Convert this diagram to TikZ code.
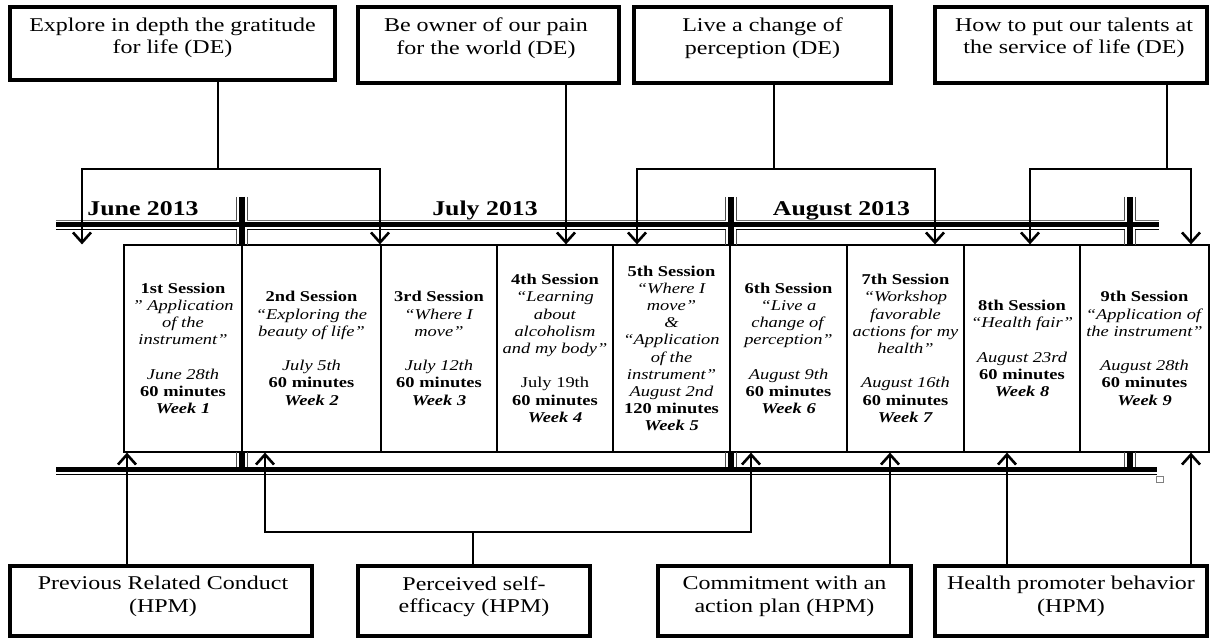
\documentclass[tikz,border=0pt]{standalone}
\usepackage{fontspec}
\setmainfont{Liberation Serif}[FakeStretch=1.23]
\usetikzlibrary{arrows.meta}
\begin{document}
\begin{tikzpicture}[x=1pt,y=-1pt,
  box/.style={draw, line width=4.5pt, inner sep=0pt},
  btxt/.style={align=center, font=\fontsize{19.5}{22.5}\selectfont, inner sep=0pt},
  cell/.style={draw, line width=1.2pt, inner sep=0pt, align=center, font=\fontsize{15}{17.2}\selectfont},
  conn/.style={line width=2.8pt},
  arr/.style={conn, -{Straight Barb[length=10pt,width=18pt,line width=2.6pt]}},
  month/.style={font=\fontsize{21}{24}\selectfont\bfseries, anchor=base, inner sep=0pt},
  thickbar/.style={line width=5pt},
  thinbar/.style={line width=1pt},
  graybar/.style={line width=0.9pt, black!55},
  sep/.style={line width=5.5pt},
  flank/.style={line width=0.9pt, black!70}
]
\useasboundingbox (0,0) rectangle (1210,639);

% ---------- top boxes ----------
\node[box, minimum width=325pt, minimum height=73pt] (b1) at (172.5,43.5) {};
\node[btxt] (b1t) at (172.5,38) {Explore in depth the gratitude\\for life (DE)};
\node[box, minimum width=261pt, minimum height=76pt] (b2) at (488.5,45) {};
\node[btxt] (b2t) at (486,38) {Be owner of our pain\\for the world (DE)};
\node[box, minimum width=257pt, minimum height=76pt] (b3) at (762.5,45) {};
\node[btxt] (b3t) at (762.5,38) {Live a change of\\perception (DE)};
\node[box, minimum width=272pt, minimum height=76pt] (b4) at (1071,45) {};
\node[btxt] (b4t) at (1074,38) {How to put our talents at\\the service of life (DE)};

% ---------- bars ----------
\draw[graybar] (56,220.3) -- (1159,220.3);
\draw[thickbar] (56,224.5) -- (1159,224.5);
\draw[thinbar] (56,229.6) -- (1159,229.6);
\draw[thickbar] (56,469.5) -- (1157,469.5);
\draw[thinbar] (56,474.3) -- (1157,474.3);
\draw[gray, line width=0.8pt] (1156,476) rectangle (1163,482);

% month labels
\node[month] (m1) at (143,216) {June 2013};
\node[month] (m2) at (485,216) {July 2013};
\node[month] (m3) at (841.5,216) {August 2013};

% ---------- session cells ----------
\node[cell, minimum width=118pt, minimum height=207pt] (c1) at (183,348.5)
 {\textbf{1st Session}\\ \textit{" Application}\\ \textit{of the}\\ \textit{instrument"}\\[17.2pt]
  \textit{June 28th}\\ \textbf{60 minutes}\\ \textbf{\textit{Week 1}}};
\node[cell, minimum width=139pt, minimum height=207pt] (c2) at (311.5,348.5)
 {\textbf{2nd Session}\\ \textit{“Exploring the}\\ \textit{beauty of life”}\\[17.2pt]
  \textit{July 5th}\\ \textbf{60 minutes}\\ \textbf{\textit{Week 2}}};
\node[cell, minimum width=116pt, minimum height=207pt] (c3) at (439,348.5)
 {\textbf{3rd Session}\\ \textit{“Where I}\\ \textit{move”}\\[17.2pt]
  \textit{July 12th}\\ \textbf{60 minutes}\\ \textbf{\textit{Week 3}}};
\node[cell, minimum width=116pt, minimum height=207pt] (c4) at (555,348.5)
 {\textbf{4th Session}\\ \textit{“Learning}\\ \textit{about}\\ \textit{alcoholism}\\ \textit{and my body”}\\[17.2pt]
  July 19th\\ \textbf{60 minutes}\\ \textbf{\textit{Week 4}}};
\node[cell, minimum width=117pt, minimum height=207pt] (c5) at (671.5,348.5)
 {\textbf{5th Session}\\ \textit{“Where I}\\ \textit{move”}\\ \textit{\&}\\ \textit{“Application}\\ \textit{of the}\\ \textit{instrument”}\\
  \textit{August 2nd}\\ \textbf{120 minutes}\\ \textbf{\textit{Week 5}}};
\node[cell, minimum width=117pt, minimum height=207pt] (c6) at (788.5,348.5)
 {\textbf{6th Session}\\ \textit{“Live a}\\ \textit{change of}\\ \textit{perception”}\\[17.2pt]
  \textit{August 9th}\\ \textbf{60 minutes}\\ \textbf{\textit{Week 6}}};
\node[cell, minimum width=117pt, minimum height=207pt] (c7) at (905.5,348.5)
 {\textbf{7th Session}\\ \textit{“Workshop}\\ \textit{favorable}\\ \textit{actions for my}\\ \textit{health”}\\[17.2pt]
  \textit{August 16th}\\ \textbf{60 minutes}\\ \textbf{\textit{Week 7}}};
\node[cell, minimum width=116pt, minimum height=207pt] (c8) at (1022,348.5)
 {\textbf{8th Session}\\ \textit{“Health fair”}\\[17.2pt]
  \textit{August 23rd}\\ \textbf{60 minutes}\\ \textbf{\textit{Week 8}}};
\node[cell, minimum width=129pt, minimum height=207pt] (c9) at (1144.5,348.5)
 {\textbf{9th Session}\\ \textit{“Application of}\\ \textit{the instrument”}\\[17.2pt]
  \textit{August 28th}\\ \textbf{60 minutes}\\ \textbf{\textit{Week 9}}};

% ---------- separators ----------
\foreach \sx in {242,731,1130}{
  % top crossing
  \fill[white] (\sx-5,196) rectangle (\sx+5,244.4);
  \draw[sep] (\sx,197) -- (\sx,245);
  \draw[thickbar] (\sx-5,224.5) -- (\sx+5,224.5);
  \draw[flank] (\sx-5.5,197) -- (\sx-5.5,220.3);
  \draw[flank] (\sx+5.5,197) -- (\sx+5.5,220.3);
  \draw[flank] (\sx-5.5,229.6) -- (\sx-5.5,245);
  \draw[flank] (\sx+5.5,229.6) -- (\sx+5.5,245);
  % bottom crossing
  \fill[white] (\sx-5,452.8) rectangle (\sx+5,466.5);
  \draw[sep] (\sx,452) -- (\sx,469);
  \draw[flank] (\sx-5.5,452) -- (\sx-5.5,467);
  \draw[flank] (\sx+5.5,452) -- (\sx+5.5,467);
}

% ---------- bottom boxes ----------
\node[box, minimum width=302pt, minimum height=70pt] (d1) at (161,601) {};
\node[btxt] (d1t) at (163,596.5) {Previous Related Conduct\\(HPM)};
\node[box, minimum width=232pt, minimum height=70pt] (d2) at (474,601) {};
\node[btxt] (d2t) at (474,596.5) {Perceived self-\\efficacy (HPM)};
\node[box, minimum width=253pt, minimum height=70pt] (d3) at (784.5,601) {};
\node[btxt] (d3t) at (784.5,596.5) {Commitment with an\\action plan (HPM)};
\node[box, minimum width=272pt, minimum height=70pt] (d4) at (1071,601) {};
\node[btxt] (d4t) at (1071,596.5) {Health promoter behavior\\(HPM)};

% ---------- top connectors ----------
\coordinate (h1) at (218,169);
\coordinate (h1l) at (82,169);
\coordinate (h1r) at (380,169);
\draw[conn] (b1.south -| h1) -- (h1);
\draw[arr] (h1) -- (h1l) -- (h1l |- c1.north);
\draw[arr] (h1) -- (h1r) -- (h1r |- c2.north);

\coordinate (a2) at (566,0);
\draw[arr] (b2.south -| a2) -- (c4.north -| a2);

\coordinate (h3) at (774,169);
\coordinate (h3l) at (637,169);
\coordinate (h3r) at (935,169);
\draw[conn] (b3.south -| h3) -- (h3);
\draw[arr] (h3) -- (h3l) -- (h3l |- c5.north);
\draw[arr] (h3) -- (h3r) -- (h3r |- c7.north);

\coordinate (h4) at (1167,169);
\coordinate (h4l) at (1030,169);
\coordinate (h4r) at (1191,169);
\draw[conn] (b4.south -| h4) -- (h4);
\draw[arr] (h4) -- (h4l) -- (h4l |- c8.north);
\draw[arr] (h4) -- (h4r) -- (h4r |- c9.north);

% ---------- bottom connectors ----------
\coordinate (u1) at (127,0);
\draw[arr] (d1.north -| u1) -- (c1.south -| u1);

\coordinate (g) at (473,532);
\coordinate (gl) at (265,532);
\coordinate (gr) at (751,532);
\draw[conn] (d2.north -| g) -- (g);
\draw[arr] (g) -- (gl) -- (gl |- c2.south);
\draw[arr] (g) -- (gr) -- (gr |- c6.south);

\coordinate (u3) at (890,0);
\draw[arr] (d3.north -| u3) -- (c7.south -| u3);
\coordinate (u4a) at (1007,0);
\draw[arr] (d4.north -| u4a) -- (c8.south -| u4a);
\coordinate (u4b) at (1191,0);
\draw[arr] (d4.north -| u4b) -- (c9.south -| u4b);
\end{tikzpicture}
\end{document}
